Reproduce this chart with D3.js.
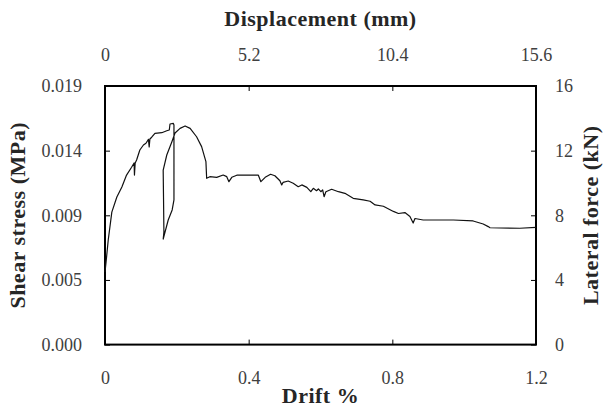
<!DOCTYPE html>
<html>
<head>
<meta charset="utf-8">
<script src="https://cdn.jsdelivr.net/npm/d3@7"></script>
<style>
  body { margin: 0; background: #fff; }
  text { font-family: "Liberation Serif", "DejaVu Serif", serif; }
</style>
</head>
<body>
<div id="chart"></div>
<script>
// drift (%) and lateral force (kN)
const drift = [0, 0.003, 0.009, 0.019, 0.033, 0.047, 0.060, 0.074, 0.081, 0.082, 0.084, 0.088,
  0.097, 0.107, 0.114, 0.121, 0.123, 0.125, 0.130, 0.139, 0.158, 0.172, 0.179, 0.181, 0.190, 0.192,
  0.192, 0.187, 0.176, 0.162, 0.164, 0.163, 0.162, 0.172, 0.186, 0.195, 0.209, 0.223, 0.237, 0.255,
  0.269, 0.281, 0.283, 0.292, 0.311, 0.329, 0.339, 0.345, 0.353, 0.367, 0.427, 0.434, 0.446, 0.461,
  0.473, 0.487, 0.492, 0.496, 0.510, 0.524, 0.538, 0.548, 0.562, 0.573, 0.580, 0.589, 0.594, 0.601,
  0.606, 0.610, 0.615, 0.631, 0.650, 0.668, 0.691, 0.719, 0.738, 0.752, 0.775, 0.803, 0.817, 0.835,
  0.849, 0.858, 0.863, 0.886, 0.970, 1.025, 1.053, 1.067, 1.072, 1.155, 1.2];
const force = [4.49, 5.11, 6.47, 8.20, 9.13, 9.75, 10.49, 10.97, 11.24, 10.49, 11.24, 11.42,
  12.04, 12.35, 12.46, 12.70, 12.23, 12.72, 12.83, 13.07, 13.11, 13.23, 13.28, 13.65, 13.69, 13.59,
  8.95, 8.33, 7.71, 6.52, 6.97, 8.95, 10.80, 11.73, 12.54, 13.09, 13.38, 13.53, 13.38, 12.86,
  12.25, 11.32, 10.29, 10.39, 10.35, 10.49, 10.39, 10.08, 10.35, 10.48, 10.48, 10.08, 10.35, 10.54,
  10.45, 10.14, 9.88, 10.04, 10.12, 9.98, 9.77, 9.88, 9.73, 9.46, 9.67, 9.52, 9.63, 9.46,
  9.57, 9.15, 9.46, 9.61, 9.46, 9.36, 9.05, 8.95, 8.87, 8.64, 8.56, 8.24, 8.11, 8.17,
  7.93, 7.52, 7.80, 7.71, 7.71, 7.65, 7.46, 7.30, 7.23, 7.20, 7.25];

const driftTicks = [0, 0.4, 0.8, 1.2];
const dispTicks = [0, 5.2, 10.4, 15.6];
const forceTicks = [0, 4, 8, 12, 16];
const stressTicks = [0, 0.00475, 0.0095, 0.01425, 0.019];
const stressLabels = ['0.000', '0.005', '0.009', '0.014', '0.019'];

const width = 603;
const height = 409;
const marginTop = 86;
const marginRight = 67;
const marginBottom = 64.4;
const marginLeft = 105;

const x = d3.scaleLinear().domain([0, 1.2]).range([marginLeft, width - marginRight]);
const xTop = d3.scaleLinear().domain([0, 15.6]).range([marginLeft, width - marginRight]);
const y = d3.scaleLinear().domain([0, 16]).range([height - marginBottom, marginTop]);
const yLeft = d3.scaleLinear().domain([0, 0.019]).range([height - marginBottom, marginTop]);

const svg = d3.select('#chart').append('svg')
    .attr('width', width)
    .attr('height', height);

// axes, ticks pointing inward
svg.append('g')
    .attr('transform', `translate(0,${height - marginBottom})`)
    .call(d3.axisBottom(x).tickValues(driftTicks).tickFormat(d3.format('')).tickSizeInner(-5).tickSizeOuter(0).tickPadding(27));

svg.append('g')
    .attr('transform', `translate(0,${marginTop})`)
    .call(d3.axisTop(xTop).tickValues(dispTicks).tickFormat(d3.format('')).tickSizeInner(-5).tickSizeOuter(0).tickPadding(25));

svg.append('g')
    .attr('transform', `translate(${marginLeft},0)`)
    .call(d3.axisLeft(yLeft).tickValues(stressTicks).tickFormat((d, i) => stressLabels[i]).tickSizeInner(-5).tickSizeOuter(0).tickPadding(23));

svg.append('g')
    .attr('transform', `translate(${width - marginRight},0)`)
    .call(d3.axisRight(y).tickValues(forceTicks).tickSizeInner(-5).tickSizeOuter(0).tickPadding(19));

svg.selectAll('.domain').remove();
svg.selectAll('.tick line').attr('stroke', '#000').attr('stroke-width', 1);
svg.selectAll('.tick text').attr('font-size', 18).attr('fill', '#404040')
    .style('font-family', '"Liberation Serif", serif');

// frame
svg.append('rect')
    .attr('x', marginLeft)
    .attr('y', marginTop)
    .attr('width', width - marginLeft - marginRight)
    .attr('height', height - marginTop - marginBottom)
    .attr('fill', 'none')
    .attr('stroke', '#000')
    .attr('stroke-width', 2);

// curve
const line = d3.line()
    .x((d, i) => x(drift[i]))
    .y((d, i) => y(force[i]));

svg.append('path')
    .datum(drift)
    .attr('d', line)
    .attr('fill', 'none')
    .attr('stroke', '#111')
    .attr('stroke-width', 1.2)
    .attr('stroke-linejoin', 'round');

// titles
const cx = (marginLeft + width - marginRight) / 2;
const cy = (marginTop + height - marginBottom) / 2;

function title(sel) {
    return sel.attr('text-anchor', 'middle')
        .attr('font-size', 22)
        .attr('font-weight', 'bold')
        .attr('letter-spacing', 0.5)
        .attr('fill', '#262626');
}

svg.append('text').call(title)
    .attr('x', cx).attr('y', 26)
    .text('Displacement (mm)');

svg.append('text').call(title)
    .attr('x', cx).attr('y', 403)
    .text('Drift %');

svg.append('text').call(title)
    .attr('transform', `translate(25,${cy}) rotate(-90)`)
    .text('Shear stress (MPa)');

svg.append('text').call(title)
    .attr('transform', `translate(598,${cy}) rotate(-90)`)
    .text('Lateral force (kN)');
</script>
</body>
</html>
